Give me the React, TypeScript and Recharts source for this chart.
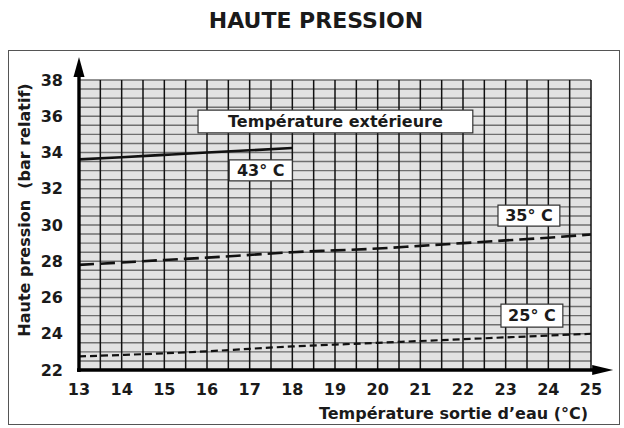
import React from "react";
import { LineChart, Line, XAxis, YAxis, ReferenceLine, ReferenceArea } from "recharts";

// water outlet temperature (°C)
const waterTemps = [13, 14, 15, 16, 17, 18, 19, 20, 21, 22, 23, 24, 25];
// high pressure (bar relatif) per outdoor temperature
const hp43 = [33.62, 33.74, 33.87, 34.0, 34.12, 34.25];
const hp35 = [27.8, 27.93, 28.07, 28.2, 28.35, 28.5, 28.6, 28.7, 28.85, 29.0, 29.15, 29.3, 29.48];
const hp25 = [22.75, 22.83, 22.92, 23.03, 23.17, 23.3, 23.4, 23.5, 23.6, 23.7, 23.8, 23.9, 24.0];

const xTicks = [13, 14, 15, 16, 17, 18, 19, 20, 21, 22, 23, 24, 25];
const yTicks = [22, 24, 26, 28, 30, 32, 34, 36, 38];
// grid every half unit
const xGrid = [13.5, 14, 14.5, 15, 15.5, 16, 16.5, 17, 17.5, 18, 18.5, 19, 19.5, 20, 20.5, 21, 21.5, 22, 22.5, 23, 23.5, 24, 24.5, 25];
const yGrid = [22.5, 23, 23.5, 24, 24.5, 25, 25.5, 26, 26.5, 27, 27.5, 28, 28.5, 29, 29.5, 30, 30.5, 31, 31.5, 32, 32.5, 33, 33.5, 34, 34.5, 35, 35.5, 36, 36.5, 37, 37.5, 38];

const data = waterTemps.map((t, i) => ({
  t,
  p43: hp43[i],
  p35: hp35[i],
  p25: hp25[i],
}));

const FONT = "'DejaVu Sans', 'Liberation Sans', Arial, sans-serif";
const INK = "#1a1a1a";

const tickStyle = { fontSize: 16, fontWeight: 700, fill: INK, fontFamily: FONT };
const boxLabel = (value: string) => ({
  value,
  position: "center" as const,
  fill: INK,
  fontSize: 16,
  fontWeight: 700,
  fontFamily: FONT,
});

function ArrowUp(p: any) {
  return (
    <g>
      <line x1={p.x1} y1={p.y1 + 2} x2={p.x2} y2={p.y2 + 14} stroke="#000" strokeWidth={3.4} />
      <polygon points={`${p.x2},${p.y2} ${p.x2 - 5.5},${p.y2 + 20} ${p.x2 + 5.5},${p.y2 + 20}`} fill="#000" />
    </g>
  );
}

function ArrowRight(p: any) {
  return (
    <g>
      <line x1={p.x1 - 2} y1={p.y1} x2={p.x2 - 14} y2={p.y2} stroke="#000" strokeWidth={3.4} />
      <polygon points={`${p.x2},${p.y2} ${p.x2 - 21},${p.y2 - 5} ${p.x2 - 21},${p.y2 + 5}`} fill="#000" />
    </g>
  );
}

export default function App() {
  return (
    <div style={{ position: "relative", width: 624, height: 428, background: "#fff", fontFamily: FONT }}>
      <style>{"body{margin:0}"}</style>
      <div
        style={{
          position: "absolute",
          left: 4,
          top: 8,
          width: 624,
          textAlign: "center",
          fontSize: 22,
          lineHeight: "26px",
          fontWeight: 700,
          color: INK,
        }}
      >
        HAUTE PRESSION
      </div>
      <div
        style={{
          position: "absolute",
          left: 8,
          top: 50,
          width: 612,
          height: 375,
          border: "1.5px solid #555",
          boxSizing: "border-box",
        }}
      />
      <div style={{ position: "absolute", left: 0, top: 0 }}>
        <LineChart width={624} height={428} data={data} margin={{ top: 80, right: 33, bottom: 0, left: 0 }}>
          <ReferenceArea x1={13} x2={25} y1={22} y2={38} fill="#e2e2e2" fillOpacity={1} stroke="none" zIndex={-300} />
          {yGrid.map((v) => (
            <ReferenceLine key={`h${v}`} y={v} stroke="#6f6f6f" strokeWidth={1.4} ifOverflow="visible" zIndex={-200} />
          ))}
          {xGrid.map((v) => (
            <ReferenceLine key={`v${v}`} x={v} stroke="#111" strokeWidth={1.5} ifOverflow="visible" zIndex={-150} />
          ))}
          <XAxis
            dataKey="t"
            type="number"
            domain={[13, 25]}
            ticks={xTicks}
            interval={0}
            height={58}
            axisLine={false}
            tickLine={false}
            tickSize={0}
            tickMargin={14}
            tick={tickStyle}
          />
          <YAxis
            type="number"
            domain={[22, 38]}
            ticks={yTicks}
            interval={0}
            width={79}
            axisLine={false}
            tickLine={false}
            tickSize={0}
            tickMargin={16}
            tick={tickStyle}
          />
          <Line dataKey="p43" type="monotone" stroke="#111" strokeWidth={2.6} dot={false} activeDot={false} isAnimationActive={false} />
          <Line dataKey="p35" type="monotone" stroke="#111" strokeWidth={2.6} strokeDasharray="15 6" dot={false} activeDot={false} isAnimationActive={false} />
          <Line dataKey="p25" type="monotone" stroke="#111" strokeWidth={2.2} strokeDasharray="7 4" dot={false} activeDot={false} isAnimationActive={false} />
          <ReferenceLine segment={[{ x: 13, y: 22 }, { x: 13, y: 39.27 }]} ifOverflow="visible" shape={ArrowUp} zIndex={550} />
          <ReferenceLine segment={[{ x: 13, y: 22 }, { x: 25.52, y: 22 }]} ifOverflow="visible" shape={ArrowRight} zIndex={550} />
          <ReferenceArea x1={15.79} x2={22.23} y1={35.08} y2={36.34} fill="#fff" fillOpacity={1} stroke="#333" strokeWidth={1.2} zIndex={700} label={boxLabel("Température extérieure")} />
          <ReferenceArea x1={16.52} x2={18.0} y1={32.43} y2={33.59} fill="#fff" fillOpacity={1} stroke="#333" strokeWidth={1.2} zIndex={700} label={boxLabel("43° C")} />
          <ReferenceArea x1={22.82} x2={24.27} y1={29.94} y2={31.1} fill="#fff" fillOpacity={1} stroke="#333" strokeWidth={1.2} zIndex={700} label={boxLabel("35° C")} />
          <ReferenceArea x1={22.89} x2={24.34} y1={24.37} y2={25.64} fill="#fff" fillOpacity={1} stroke="#333" strokeWidth={1.2} zIndex={700} label={boxLabel("25° C")} />
        </LineChart>
      </div>
      <div
        style={{
          position: "absolute",
          left: 25 - 150,
          top: 200,
          width: 300,
          height: 20,
          lineHeight: "20px",
          textAlign: "center",
          transform: "rotate(-90deg)",
          fontSize: 16,
          fontWeight: 700,
          color: INK,
          whiteSpace: "pre",
        }}
      >
        {"Haute pression  (bar relatif)"}
      </div>
      <div
        style={{
          position: "absolute",
          right: 36,
          top: 404,
          lineHeight: "20px",
          fontSize: 16,
          fontWeight: 700,
          color: INK,
          whiteSpace: "pre",
        }}
      >
        Température sortie d’eau (°C)
      </div>
    </div>
  );
}
